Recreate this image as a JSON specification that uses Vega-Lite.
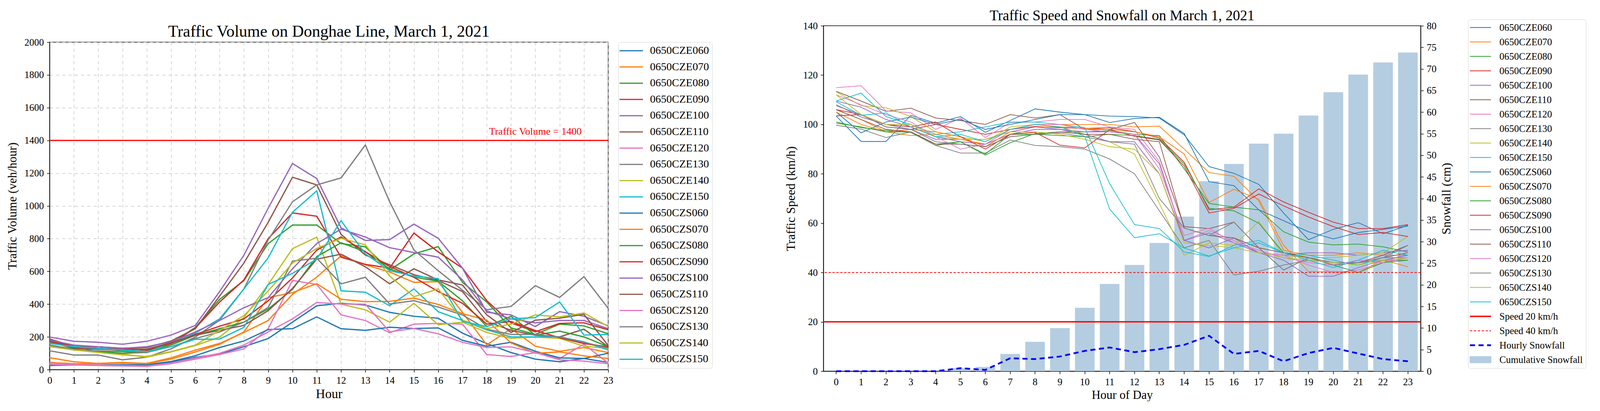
{
  "$schema": "https://vega.github.io/schema/vega-lite/v6.json",
  "padding": {"left": 15, "top": 10, "right": 0, "bottom": 0},
  "config": {
    "font": "Liberation Serif",
    "view": {"stroke": "#000000", "strokeWidth": 1.5},
    "axis": {"labelFont": "Liberation Serif", "titleFont": "Liberation Serif", "titleFontWeight": "normal", "labelColor": "#000000", "titleColor": "#000000", "domainColor": "#000000", "domainWidth": 1.5, "tickColor": "#000000", "tickWidth": 1.5, "tickSize": 7, "labelPadding": 8},
    "legend": {"labelFont": "Liberation Serif", "labelColor": "#000000"},
    "title": {"font": "Liberation Serif", "fontWeight": "normal", "color": "#000000"}
  },
  "datasets": {
    "volume": [
      {"hour":0,"sensor":"0650CZE060","volume":25},{"hour":1,"sensor":"0650CZE060","volume":28},{"hour":2,"sensor":"0650CZE060","volume":28},{"hour":3,"sensor":"0650CZE060","volume":28},{"hour":4,"sensor":"0650CZE060","volume":28},{"hour":5,"sensor":"0650CZE060","volume":45},{"hour":6,"sensor":"0650CZE060","volume":75},{"hour":7,"sensor":"0650CZE060","volume":95},{"hour":8,"sensor":"0650CZE060","volume":140},{"hour":9,"sensor":"0650CZE060","volume":190},{"hour":10,"sensor":"0650CZE060","volume":290},{"hour":11,"sensor":"0650CZE060","volume":390},{"hour":12,"sensor":"0650CZE060","volume":405},{"hour":13,"sensor":"0650CZE060","volume":395},{"hour":14,"sensor":"0650CZE060","volume":350},{"hour":15,"sensor":"0650CZE060","volume":326},{"hour":16,"sensor":"0650CZE060","volume":314},{"hour":17,"sensor":"0650CZE060","volume":223},{"hour":18,"sensor":"0650CZE060","volume":159},{"hour":19,"sensor":"0650CZE060","volume":104},{"hour":20,"sensor":"0650CZE060","volume":64},{"hour":21,"sensor":"0650CZE060","volume":48},{"hour":22,"sensor":"0650CZE060","volume":68},{"hour":23,"sensor":"0650CZE060","volume":44},
      {"hour":0,"sensor":"0650CZE070","volume":73},{"hour":1,"sensor":"0650CZE070","volume":48},{"hour":2,"sensor":"0650CZE070","volume":38},{"hour":3,"sensor":"0650CZE070","volume":44},{"hour":4,"sensor":"0650CZE070","volume":38},{"hour":5,"sensor":"0650CZE070","volume":72},{"hour":6,"sensor":"0650CZE070","volume":119},{"hour":7,"sensor":"0650CZE070","volume":160},{"hour":8,"sensor":"0650CZE070","volume":227},{"hour":9,"sensor":"0650CZE070","volume":300},{"hour":10,"sensor":"0650CZE070","volume":460},{"hour":11,"sensor":"0650CZE070","volume":565},{"hour":12,"sensor":"0650CZE070","volume":695},{"hour":13,"sensor":"0650CZE070","volume":640},{"hour":14,"sensor":"0650CZE070","volume":596},{"hour":15,"sensor":"0650CZE070","volume":533},{"hour":16,"sensor":"0650CZE070","volume":537},{"hour":17,"sensor":"0650CZE070","volume":350},{"hour":18,"sensor":"0650CZE070","volume":151},{"hour":19,"sensor":"0650CZE070","volume":250},{"hour":20,"sensor":"0650CZE070","volume":143},{"hour":21,"sensor":"0650CZE070","volume":112},{"hour":22,"sensor":"0650CZE070","volume":135},{"hour":23,"sensor":"0650CZE070","volume":104},
      {"hour":0,"sensor":"0650CZE080","volume":175},{"hour":1,"sensor":"0650CZE080","volume":143},{"hour":2,"sensor":"0650CZE080","volume":108},{"hour":3,"sensor":"0650CZE080","volume":115},{"hour":4,"sensor":"0650CZE080","volume":111},{"hour":5,"sensor":"0650CZE080","volume":159},{"hour":6,"sensor":"0650CZE080","volume":258},{"hour":7,"sensor":"0650CZE080","volume":429},{"hour":8,"sensor":"0650CZE080","volume":544},{"hour":9,"sensor":"0650CZE080","volume":770},{"hour":10,"sensor":"0650CZE080","volume":883},{"hour":11,"sensor":"0650CZE080","volume":883},{"hour":12,"sensor":"0650CZE080","volume":770},{"hour":13,"sensor":"0650CZE080","volume":750},{"hour":14,"sensor":"0650CZE080","volume":608},{"hour":15,"sensor":"0650CZE080","volume":707},{"hour":16,"sensor":"0650CZE080","volume":751},{"hour":17,"sensor":"0650CZE080","volume":533},{"hour":18,"sensor":"0650CZE080","volume":413},{"hour":19,"sensor":"0650CZE080","volume":255},{"hour":20,"sensor":"0650CZE080","volume":215},{"hour":21,"sensor":"0650CZE080","volume":278},{"hour":22,"sensor":"0650CZE080","volume":267},{"hour":23,"sensor":"0650CZE080","volume":219},
      {"hour":0,"sensor":"0650CZE090","volume":187},{"hour":1,"sensor":"0650CZE090","volume":135},{"hour":2,"sensor":"0650CZE090","volume":127},{"hour":3,"sensor":"0650CZE090","volume":127},{"hour":4,"sensor":"0650CZE090","volume":119},{"hour":5,"sensor":"0650CZE090","volume":159},{"hour":6,"sensor":"0650CZE090","volume":254},{"hour":7,"sensor":"0650CZE090","volume":413},{"hour":8,"sensor":"0650CZE090","volume":548},{"hour":9,"sensor":"0650CZE090","volume":800},{"hour":10,"sensor":"0650CZE090","volume":957},{"hour":11,"sensor":"0650CZE090","volume":937},{"hour":12,"sensor":"0650CZE090","volume":687},{"hour":13,"sensor":"0650CZE090","volume":643},{"hour":14,"sensor":"0650CZE090","volume":620},{"hour":15,"sensor":"0650CZE090","volume":834},{"hour":16,"sensor":"0650CZE090","volume":719},{"hour":17,"sensor":"0650CZE090","volume":620},{"hour":18,"sensor":"0650CZE090","volume":421},{"hour":19,"sensor":"0650CZE090","volume":286},{"hour":20,"sensor":"0650CZE090","volume":231},{"hour":21,"sensor":"0650CZE090","volume":282},{"hour":22,"sensor":"0650CZE090","volume":286},{"hour":23,"sensor":"0650CZE090","volume":243},
      {"hour":0,"sensor":"0650CZE100","volume":199},{"hour":1,"sensor":"0650CZE100","volume":173},{"hour":2,"sensor":"0650CZE100","volume":167},{"hour":3,"sensor":"0650CZE100","volume":155},{"hour":4,"sensor":"0650CZE100","volume":173},{"hour":5,"sensor":"0650CZE100","volume":211},{"hour":6,"sensor":"0650CZE100","volume":270},{"hour":7,"sensor":"0650CZE100","volume":477},{"hour":8,"sensor":"0650CZE100","volume":699},{"hour":9,"sensor":"0650CZE100","volume":986},{"hour":10,"sensor":"0650CZE100","volume":1259},{"hour":11,"sensor":"0650CZE100","volume":1167},{"hour":12,"sensor":"0650CZE100","volume":866},{"hour":13,"sensor":"0650CZE100","volume":789},{"hour":14,"sensor":"0650CZE100","volume":794},{"hour":15,"sensor":"0650CZE100","volume":889},{"hour":16,"sensor":"0650CZE100","volume":802},{"hour":17,"sensor":"0650CZE100","volume":620},{"hour":18,"sensor":"0650CZE100","volume":350},{"hour":19,"sensor":"0650CZE100","volume":334},{"hour":20,"sensor":"0650CZE100","volume":263},{"hour":21,"sensor":"0650CZE100","volume":354},{"hour":22,"sensor":"0650CZE100","volume":326},{"hour":23,"sensor":"0650CZE100","volume":267},
      {"hour":0,"sensor":"0650CZE110","volume":187},{"hour":1,"sensor":"0650CZE110","volume":143},{"hour":2,"sensor":"0650CZE110","volume":139},{"hour":3,"sensor":"0650CZE110","volume":131},{"hour":4,"sensor":"0650CZE110","volume":135},{"hour":5,"sensor":"0650CZE110","volume":175},{"hour":6,"sensor":"0650CZE110","volume":250},{"hour":7,"sensor":"0650CZE110","volume":449},{"hour":8,"sensor":"0650CZE110","volume":651},{"hour":9,"sensor":"0650CZE110","volume":900},{"hour":10,"sensor":"0650CZE110","volume":1175},{"hour":11,"sensor":"0650CZE110","volume":1128},{"hour":12,"sensor":"0650CZE110","volume":826},{"hour":13,"sensor":"0650CZE110","volume":700},{"hour":14,"sensor":"0650CZE110","volume":640},{"hour":15,"sensor":"0650CZE110","volume":580},{"hour":16,"sensor":"0650CZE110","volume":544},{"hour":17,"sensor":"0650CZE110","volume":477},{"hour":18,"sensor":"0650CZE110","volume":294},{"hour":19,"sensor":"0650CZE110","volume":240},{"hour":20,"sensor":"0650CZE110","volume":210},{"hour":21,"sensor":"0650CZE110","volume":200},{"hour":22,"sensor":"0650CZE110","volume":247},{"hour":23,"sensor":"0650CZE110","volume":140},
      {"hour":0,"sensor":"0650CZE120","volume":32},{"hour":1,"sensor":"0650CZE120","volume":28},{"hour":2,"sensor":"0650CZE120","volume":25},{"hour":3,"sensor":"0650CZE120","volume":22},{"hour":4,"sensor":"0650CZE120","volume":20},{"hour":5,"sensor":"0650CZE120","volume":36},{"hour":6,"sensor":"0650CZE120","volume":64},{"hour":7,"sensor":"0650CZE120","volume":92},{"hour":8,"sensor":"0650CZE120","volume":127},{"hour":9,"sensor":"0650CZE120","volume":250},{"hour":10,"sensor":"0650CZE120","volume":545},{"hour":11,"sensor":"0650CZE120","volume":520},{"hour":12,"sensor":"0650CZE120","volume":335},{"hour":13,"sensor":"0650CZE120","volume":300},{"hour":14,"sensor":"0650CZE120","volume":225},{"hour":15,"sensor":"0650CZE120","volume":278},{"hour":16,"sensor":"0650CZE120","volume":282},{"hour":17,"sensor":"0650CZE120","volume":278},{"hour":18,"sensor":"0650CZE120","volume":92},{"hour":19,"sensor":"0650CZE120","volume":80},{"hour":20,"sensor":"0650CZE120","volume":104},{"hour":21,"sensor":"0650CZE120","volume":68},{"hour":22,"sensor":"0650CZE120","volume":155},{"hour":23,"sensor":"0650CZE120","volume":40},
      {"hour":0,"sensor":"0650CZE130","volume":115},{"hour":1,"sensor":"0650CZE130","volume":89},{"hour":2,"sensor":"0650CZE130","volume":89},{"hour":3,"sensor":"0650CZE130","volume":60},{"hour":4,"sensor":"0650CZE130","volume":76},{"hour":5,"sensor":"0650CZE130","volume":127},{"hour":6,"sensor":"0650CZE130","volume":199},{"hour":7,"sensor":"0650CZE130","volume":302},{"hour":8,"sensor":"0650CZE130","volume":493},{"hour":9,"sensor":"0650CZE130","volume":792},{"hour":10,"sensor":"0650CZE130","volume":1025},{"hour":11,"sensor":"0650CZE130","volume":1128},{"hour":12,"sensor":"0650CZE130","volume":1171},{"hour":13,"sensor":"0650CZE130","volume":1372},{"hour":14,"sensor":"0650CZE130","volume":1025},{"hour":15,"sensor":"0650CZE130","volume":731},{"hour":16,"sensor":"0650CZE130","volume":604},{"hour":17,"sensor":"0650CZE130","volume":485},{"hour":18,"sensor":"0650CZE130","volume":366},{"hour":19,"sensor":"0650CZE130","volume":386},{"hour":20,"sensor":"0650CZE130","volume":513},{"hour":21,"sensor":"0650CZE130","volume":441},{"hour":22,"sensor":"0650CZE130","volume":568},{"hour":23,"sensor":"0650CZE130","volume":374},
      {"hour":0,"sensor":"0650CZE140","volume":147},{"hour":1,"sensor":"0650CZE140","volume":123},{"hour":2,"sensor":"0650CZE140","volume":111},{"hour":3,"sensor":"0650CZE140","volume":96},{"hour":4,"sensor":"0650CZE140","volume":76},{"hour":5,"sensor":"0650CZE140","volume":108},{"hour":6,"sensor":"0650CZE140","volume":147},{"hour":7,"sensor":"0650CZE140","volume":199},{"hour":8,"sensor":"0650CZE140","volume":318},{"hour":9,"sensor":"0650CZE140","volume":520},{"hour":10,"sensor":"0650CZE140","volume":739},{"hour":11,"sensor":"0650CZE140","volume":809},{"hour":12,"sensor":"0650CZE140","volume":400},{"hour":13,"sensor":"0650CZE140","volume":365},{"hour":14,"sensor":"0650CZE140","volume":290},{"hour":15,"sensor":"0650CZE140","volume":405},{"hour":16,"sensor":"0650CZE140","volume":274},{"hour":17,"sensor":"0650CZE140","volume":290},{"hour":18,"sensor":"0650CZE140","volume":227},{"hour":19,"sensor":"0650CZE140","volume":191},{"hour":20,"sensor":"0650CZE140","volume":199},{"hour":21,"sensor":"0650CZE140","volume":191},{"hour":22,"sensor":"0650CZE140","volume":143},{"hour":23,"sensor":"0650CZE140","volume":130},
      {"hour":0,"sensor":"0650CZE150","volume":167},{"hour":1,"sensor":"0650CZE150","volume":143},{"hour":2,"sensor":"0650CZE150","volume":127},{"hour":3,"sensor":"0650CZE150","volume":123},{"hour":4,"sensor":"0650CZE150","volume":104},{"hour":5,"sensor":"0650CZE150","volume":167},{"hour":6,"sensor":"0650CZE150","volume":223},{"hour":7,"sensor":"0650CZE150","volume":310},{"hour":8,"sensor":"0650CZE150","volume":493},{"hour":9,"sensor":"0650CZE150","volume":683},{"hour":10,"sensor":"0650CZE150","volume":961},{"hour":11,"sensor":"0650CZE150","volume":1092},{"hour":12,"sensor":"0650CZE150","volume":481},{"hour":13,"sensor":"0650CZE150","volume":473},{"hour":14,"sensor":"0650CZE150","volume":390},{"hour":15,"sensor":"0650CZE150","volume":493},{"hour":16,"sensor":"0650CZE150","volume":354},{"hour":17,"sensor":"0650CZE150","volume":300},{"hour":18,"sensor":"0650CZE150","volume":243},{"hour":19,"sensor":"0650CZE150","volume":200},{"hour":20,"sensor":"0650CZE150","volume":200},{"hour":21,"sensor":"0650CZE150","volume":200},{"hour":22,"sensor":"0650CZE150","volume":170},{"hour":23,"sensor":"0650CZE150","volume":120},
      {"hour":0,"sensor":"0650CZS060","volume":45},{"hour":1,"sensor":"0650CZS060","volume":30},{"hour":2,"sensor":"0650CZS060","volume":28},{"hour":3,"sensor":"0650CZS060","volume":30},{"hour":4,"sensor":"0650CZS060","volume":30},{"hour":5,"sensor":"0650CZS060","volume":50},{"hour":6,"sensor":"0650CZS060","volume":85},{"hour":7,"sensor":"0650CZS060","volume":135},{"hour":8,"sensor":"0650CZS060","volume":175},{"hour":9,"sensor":"0650CZS060","volume":245},{"hour":10,"sensor":"0650CZS060","volume":250},{"hour":11,"sensor":"0650CZS060","volume":322},{"hour":12,"sensor":"0650CZS060","volume":250},{"hour":13,"sensor":"0650CZS060","volume":240},{"hour":14,"sensor":"0650CZS060","volume":259},{"hour":15,"sensor":"0650CZS060","volume":251},{"hour":16,"sensor":"0650CZS060","volume":255},{"hour":17,"sensor":"0650CZS060","volume":179},{"hour":18,"sensor":"0650CZS060","volume":143},{"hour":19,"sensor":"0650CZS060","volume":167},{"hour":20,"sensor":"0650CZS060","volume":112},{"hour":21,"sensor":"0650CZS060","volume":72},{"hour":22,"sensor":"0650CZS060","volume":68},{"hour":23,"sensor":"0650CZS060","volume":100},
      {"hour":0,"sensor":"0650CZS070","volume":44},{"hour":1,"sensor":"0650CZS070","volume":36},{"hour":2,"sensor":"0650CZS070","volume":36},{"hour":3,"sensor":"0650CZS070","volume":40},{"hour":4,"sensor":"0650CZS070","volume":36},{"hour":5,"sensor":"0650CZS070","volume":64},{"hour":6,"sensor":"0650CZS070","volume":108},{"hour":7,"sensor":"0650CZS070","volume":155},{"hour":8,"sensor":"0650CZS070","volume":230},{"hour":9,"sensor":"0650CZS070","volume":440},{"hour":10,"sensor":"0650CZS070","volume":470},{"hour":11,"sensor":"0650CZS070","volume":525},{"hour":12,"sensor":"0650CZS070","volume":430},{"hour":13,"sensor":"0650CZS070","volume":415},{"hour":14,"sensor":"0650CZS070","volume":417},{"hour":15,"sensor":"0650CZS070","volume":437},{"hour":16,"sensor":"0650CZS070","volume":398},{"hour":17,"sensor":"0650CZS070","volume":342},{"hour":18,"sensor":"0650CZS070","volume":302},{"hour":19,"sensor":"0650CZS070","volume":163},{"hour":20,"sensor":"0650CZS070","volume":100},{"hour":21,"sensor":"0650CZS070","volume":108},{"hour":22,"sensor":"0650CZS070","volume":84},{"hour":23,"sensor":"0650CZS070","volume":68},
      {"hour":0,"sensor":"0650CZS080","volume":150},{"hour":1,"sensor":"0650CZS080","volume":125},{"hour":2,"sensor":"0650CZS080","volume":110},{"hour":3,"sensor":"0650CZS080","volume":100},{"hour":4,"sensor":"0650CZS080","volume":105},{"hour":5,"sensor":"0650CZS080","volume":150},{"hour":6,"sensor":"0650CZS080","volume":210},{"hour":7,"sensor":"0650CZS080","volume":250},{"hour":8,"sensor":"0650CZS080","volume":290},{"hour":9,"sensor":"0650CZS080","volume":370},{"hour":10,"sensor":"0650CZS080","volume":490},{"hour":11,"sensor":"0650CZS080","volume":690},{"hour":12,"sensor":"0650CZS080","volume":775},{"hour":13,"sensor":"0650CZS080","volume":720},{"hour":14,"sensor":"0650CZS080","volume":615},{"hour":15,"sensor":"0650CZS080","volume":565},{"hour":16,"sensor":"0650CZS080","volume":540},{"hour":17,"sensor":"0650CZS080","volume":420},{"hour":18,"sensor":"0650CZS080","volume":263},{"hour":19,"sensor":"0650CZS080","volume":326},{"hour":20,"sensor":"0650CZS080","volume":211},{"hour":21,"sensor":"0650CZS080","volume":235},{"hour":22,"sensor":"0650CZS080","volume":200},{"hour":23,"sensor":"0650CZS080","volume":140},
      {"hour":0,"sensor":"0650CZS090","volume":175},{"hour":1,"sensor":"0650CZS090","volume":140},{"hour":2,"sensor":"0650CZS090","volume":130},{"hour":3,"sensor":"0650CZS090","volume":125},{"hour":4,"sensor":"0650CZS090","volume":125},{"hour":5,"sensor":"0650CZS090","volume":160},{"hour":6,"sensor":"0650CZS090","volume":215},{"hour":7,"sensor":"0650CZS090","volume":265},{"hour":8,"sensor":"0650CZS090","volume":310},{"hour":9,"sensor":"0650CZS090","volume":420},{"hour":10,"sensor":"0650CZS090","volume":560},{"hour":11,"sensor":"0650CZS090","volume":730},{"hour":12,"sensor":"0650CZS090","volume":810},{"hour":13,"sensor":"0650CZS090","volume":720},{"hour":14,"sensor":"0650CZS090","volume":630},{"hour":15,"sensor":"0650CZS090","volume":564},{"hour":16,"sensor":"0650CZS090","volume":477},{"hour":17,"sensor":"0650CZS090","volume":405},{"hour":18,"sensor":"0650CZS090","volume":278},{"hour":19,"sensor":"0650CZS090","volume":294},{"hour":20,"sensor":"0650CZS090","volume":239},{"hour":21,"sensor":"0650CZS090","volume":195},{"hour":22,"sensor":"0650CZS090","volume":159},{"hour":23,"sensor":"0650CZS090","volume":139},
      {"hour":0,"sensor":"0650CZS100","volume":180},{"hour":1,"sensor":"0650CZS100","volume":150},{"hour":2,"sensor":"0650CZS100","volume":140},{"hour":3,"sensor":"0650CZS100","volume":130},{"hour":4,"sensor":"0650CZS100","volume":140},{"hour":5,"sensor":"0650CZS100","volume":170},{"hour":6,"sensor":"0650CZS100","volume":230},{"hour":7,"sensor":"0650CZS100","volume":300},{"hour":8,"sensor":"0650CZS100","volume":378},{"hour":9,"sensor":"0650CZS100","volume":440},{"hour":10,"sensor":"0650CZS100","volume":616},{"hour":11,"sensor":"0650CZS100","volume":770},{"hour":12,"sensor":"0650CZS100","volume":858},{"hour":13,"sensor":"0650CZS100","volume":810},{"hour":14,"sensor":"0650CZS100","volume":745},{"hour":15,"sensor":"0650CZS100","volume":715},{"hour":16,"sensor":"0650CZS100","volume":687},{"hour":17,"sensor":"0650CZS100","volume":548},{"hour":18,"sensor":"0650CZS100","volume":358},{"hour":19,"sensor":"0650CZS100","volume":310},{"hour":20,"sensor":"0650CZS100","volume":286},{"hour":21,"sensor":"0650CZS100","volume":300},{"hour":22,"sensor":"0650CZS100","volume":300},{"hour":23,"sensor":"0650CZS100","volume":250},
      {"hour":0,"sensor":"0650CZS110","volume":170},{"hour":1,"sensor":"0650CZS110","volume":130},{"hour":2,"sensor":"0650CZS110","volume":125},{"hour":3,"sensor":"0650CZS110","volume":120},{"hour":4,"sensor":"0650CZS110","volume":125},{"hour":5,"sensor":"0650CZS110","volume":165},{"hour":6,"sensor":"0650CZS110","volume":210},{"hour":7,"sensor":"0650CZS110","volume":240},{"hour":8,"sensor":"0650CZS110","volume":270},{"hour":9,"sensor":"0650CZS110","volume":360},{"hour":10,"sensor":"0650CZS110","volume":496},{"hour":11,"sensor":"0650CZS110","volume":675},{"hour":12,"sensor":"0650CZS110","volume":705},{"hour":13,"sensor":"0650CZS110","volume":628},{"hour":14,"sensor":"0650CZS110","volume":524},{"hour":15,"sensor":"0650CZS110","volume":616},{"hour":16,"sensor":"0650CZS110","volume":548},{"hour":17,"sensor":"0650CZS110","volume":517},{"hour":18,"sensor":"0650CZS110","volume":334},{"hour":19,"sensor":"0650CZS110","volume":227},{"hour":20,"sensor":"0650CZS110","volume":302},{"hour":21,"sensor":"0650CZS110","volume":314},{"hour":22,"sensor":"0650CZS110","volume":338},{"hour":23,"sensor":"0650CZS110","volume":147},
      {"hour":0,"sensor":"0650CZS120","volume":40},{"hour":1,"sensor":"0650CZS120","volume":30},{"hour":2,"sensor":"0650CZS120","volume":28},{"hour":3,"sensor":"0650CZS120","volume":25},{"hour":4,"sensor":"0650CZS120","volume":22},{"hour":5,"sensor":"0650CZS120","volume":40},{"hour":6,"sensor":"0650CZS120","volume":70},{"hour":7,"sensor":"0650CZS120","volume":100},{"hour":8,"sensor":"0650CZS120","volume":150},{"hour":9,"sensor":"0650CZS120","volume":230},{"hour":10,"sensor":"0650CZS120","volume":310},{"hour":11,"sensor":"0650CZS120","volume":410},{"hour":12,"sensor":"0650CZS120","volume":400},{"hour":13,"sensor":"0650CZS120","volume":400},{"hour":14,"sensor":"0650CZS120","volume":231},{"hour":15,"sensor":"0650CZS120","volume":251},{"hour":16,"sensor":"0650CZS120","volume":219},{"hour":17,"sensor":"0650CZS120","volume":167},{"hour":18,"sensor":"0650CZS120","volume":135},{"hour":19,"sensor":"0650CZS120","volume":139},{"hour":20,"sensor":"0650CZS120","volume":104},{"hour":21,"sensor":"0650CZS120","volume":60},{"hour":22,"sensor":"0650CZS120","volume":52},{"hour":23,"sensor":"0650CZS120","volume":36},
      {"hour":0,"sensor":"0650CZS130","volume":150},{"hour":1,"sensor":"0650CZS130","volume":120},{"hour":2,"sensor":"0650CZS130","volume":115},{"hour":3,"sensor":"0650CZS130","volume":110},{"hour":4,"sensor":"0650CZS130","volume":105},{"hour":5,"sensor":"0650CZS130","volume":140},{"hour":6,"sensor":"0650CZS130","volume":190},{"hour":7,"sensor":"0650CZS130","volume":230},{"hour":8,"sensor":"0650CZS130","volume":290},{"hour":9,"sensor":"0650CZS130","volume":380},{"hour":10,"sensor":"0650CZS130","volume":663},{"hour":11,"sensor":"0650CZS130","volume":680},{"hour":12,"sensor":"0650CZS130","volume":524},{"hour":13,"sensor":"0650CZS130","volume":564},{"hour":14,"sensor":"0650CZS130","volume":401},{"hour":15,"sensor":"0650CZS130","volume":421},{"hour":16,"sensor":"0650CZS130","volume":382},{"hour":17,"sensor":"0650CZS130","volume":334},{"hour":18,"sensor":"0650CZS130","volume":247},{"hour":19,"sensor":"0650CZS130","volume":215},{"hour":20,"sensor":"0650CZS130","volume":215},{"hour":21,"sensor":"0650CZS130","volume":199},{"hour":22,"sensor":"0650CZS130","volume":167},{"hour":23,"sensor":"0650CZS130","volume":132},
      {"hour":0,"sensor":"0650CZS140","volume":140},{"hour":1,"sensor":"0650CZS140","volume":120},{"hour":2,"sensor":"0650CZS140","volume":105},{"hour":3,"sensor":"0650CZS140","volume":90},{"hour":4,"sensor":"0650CZS140","volume":80},{"hour":5,"sensor":"0650CZS140","volume":110},{"hour":6,"sensor":"0650CZS140","volume":150},{"hour":7,"sensor":"0650CZS140","volume":240},{"hour":8,"sensor":"0650CZS140","volume":330},{"hour":9,"sensor":"0650CZS140","volume":480},{"hour":10,"sensor":"0650CZS140","volume":651},{"hour":11,"sensor":"0650CZS140","volume":740},{"hour":12,"sensor":"0650CZS140","volume":802},{"hour":13,"sensor":"0650CZS140","volume":762},{"hour":14,"sensor":"0650CZS140","volume":572},{"hour":15,"sensor":"0650CZS140","volume":445},{"hour":16,"sensor":"0650CZS140","volume":493},{"hour":17,"sensor":"0650CZS140","volume":302},{"hour":18,"sensor":"0650CZS140","volume":251},{"hour":19,"sensor":"0650CZS140","volume":278},{"hour":20,"sensor":"0650CZS140","volume":334},{"hour":21,"sensor":"0650CZS140","volume":322},{"hour":22,"sensor":"0650CZS140","volume":346},{"hour":23,"sensor":"0650CZS140","volume":263},
      {"hour":0,"sensor":"0650CZS150","volume":160},{"hour":1,"sensor":"0650CZS150","volume":140},{"hour":2,"sensor":"0650CZS150","volume":130},{"hour":3,"sensor":"0650CZS150","volume":120},{"hour":4,"sensor":"0650CZS150","volume":110},{"hour":5,"sensor":"0650CZS150","volume":140},{"hour":6,"sensor":"0650CZS150","volume":185},{"hour":7,"sensor":"0650CZS150","volume":187},{"hour":8,"sensor":"0650CZS150","volume":258},{"hour":9,"sensor":"0650CZS150","volume":520},{"hour":10,"sensor":"0650CZS150","volume":588},{"hour":11,"sensor":"0650CZS150","volume":675},{"hour":12,"sensor":"0650CZS150","volume":909},{"hour":13,"sensor":"0650CZS150","volume":707},{"hour":14,"sensor":"0650CZS150","volume":604},{"hour":15,"sensor":"0650CZS150","volume":572},{"hour":16,"sensor":"0650CZS150","volume":556},{"hour":17,"sensor":"0650CZS150","volume":294},{"hour":18,"sensor":"0650CZS150","volume":263},{"hour":19,"sensor":"0650CZS150","volume":310},{"hour":20,"sensor":"0650CZS150","volume":318},{"hour":21,"sensor":"0650CZS150","volume":413},{"hour":22,"sensor":"0650CZS150","volume":211},{"hour":23,"sensor":"0650CZS150","volume":215}
    ],
    "speed": [
      {"hour":0,"series":"0650CZE060","speed":103.4},{"hour":1,"series":"0650CZE060","speed":93.1},{"hour":2,"series":"0650CZE060","speed":93.1},{"hour":3,"series":"0650CZE060","speed":103.7},{"hour":4,"series":"0650CZE060","speed":100.5},{"hour":5,"series":"0650CZE060","speed":103.2},{"hour":6,"series":"0650CZE060","speed":96.8},{"hour":7,"series":"0650CZE060","speed":101.6},{"hour":8,"series":"0650CZE060","speed":106.3},{"hour":9,"series":"0650CZE060","speed":105},{"hour":10,"series":"0650CZE060","speed":104},{"hour":11,"series":"0650CZE060","speed":103.4},{"hour":12,"series":"0650CZE060","speed":103.2},{"hour":13,"series":"0650CZE060","speed":102.6},{"hour":14,"series":"0650CZE060","speed":95.8},{"hour":15,"series":"0650CZE060","speed":82.9},{"hour":16,"series":"0650CZE060","speed":80.2},{"hour":17,"series":"0650CZE060","speed":75.7},{"hour":18,"series":"0650CZE060","speed":64.1},{"hour":19,"series":"0650CZE060","speed":53.3},{"hour":20,"series":"0650CZE060","speed":57.5},{"hour":21,"series":"0650CZE060","speed":60.2},{"hour":22,"series":"0650CZE060","speed":55.7},{"hour":23,"series":"0650CZE060","speed":59.1},
      {"hour":0,"series":"0650CZE070","speed":106},{"hour":1,"series":"0650CZE070","speed":102},{"hour":2,"series":"0650CZE070","speed":97},{"hour":3,"series":"0650CZE070","speed":95.5},{"hour":4,"series":"0650CZE070","speed":96},{"hour":5,"series":"0650CZE070","speed":94},{"hour":6,"series":"0650CZE070","speed":92},{"hour":7,"series":"0650CZE070","speed":98},{"hour":8,"series":"0650CZE070","speed":100},{"hour":9,"series":"0650CZE070","speed":100},{"hour":10,"series":"0650CZE070","speed":100},{"hour":11,"series":"0650CZE070","speed":100},{"hour":12,"series":"0650CZE070","speed":99},{"hour":13,"series":"0650CZE070","speed":99.3},{"hour":14,"series":"0650CZE070","speed":90},{"hour":15,"series":"0650CZE070","speed":80.5},{"hour":16,"series":"0650CZE070","speed":79},{"hour":17,"series":"0650CZE070","speed":69},{"hour":18,"series":"0650CZE070","speed":49},{"hour":19,"series":"0650CZE070","speed":47},{"hour":20,"series":"0650CZE070","speed":47},{"hour":21,"series":"0650CZE070","speed":48},{"hour":22,"series":"0650CZE070","speed":47},{"hour":23,"series":"0650CZE070","speed":47},
      {"hour":0,"series":"0650CZE080","speed":101},{"hour":1,"series":"0650CZE080","speed":98.7},{"hour":2,"series":"0650CZE080","speed":97.6},{"hour":3,"series":"0650CZE080","speed":96.8},{"hour":4,"series":"0650CZE080","speed":91.5},{"hour":5,"series":"0650CZE080","speed":93},{"hour":6,"series":"0650CZE080","speed":87.6},{"hour":7,"series":"0650CZE080","speed":92.6},{"hour":8,"series":"0650CZE080","speed":96.3},{"hour":9,"series":"0650CZE080","speed":97},{"hour":10,"series":"0650CZE080","speed":97},{"hour":11,"series":"0650CZE080","speed":97.5},{"hour":12,"series":"0650CZE080","speed":96},{"hour":13,"series":"0650CZE080","speed":95.5},{"hour":14,"series":"0650CZE080","speed":82},{"hour":15,"series":"0650CZE080","speed":68},{"hour":16,"series":"0650CZE080","speed":66.5},{"hour":17,"series":"0650CZE080","speed":65.4},{"hour":18,"series":"0650CZE080","speed":56.5},{"hour":19,"series":"0650CZE080","speed":52.3},{"hour":20,"series":"0650CZE080","speed":51.2},{"hour":21,"series":"0650CZE080","speed":51.5},{"hour":22,"series":"0650CZE080","speed":50.4},{"hour":23,"series":"0650CZE080","speed":48.3},
      {"hour":0,"series":"0650CZE090","speed":106},{"hour":1,"series":"0650CZE090","speed":104},{"hour":2,"series":"0650CZE090","speed":99},{"hour":3,"series":"0650CZE090","speed":98},{"hour":4,"series":"0650CZE090","speed":100},{"hour":5,"series":"0650CZE090","speed":98},{"hour":6,"series":"0650CZE090","speed":96},{"hour":7,"series":"0650CZE090","speed":98},{"hour":8,"series":"0650CZE090","speed":99.2},{"hour":9,"series":"0650CZE090","speed":98.7},{"hour":10,"series":"0650CZE090","speed":98.4},{"hour":11,"series":"0650CZE090","speed":98.7},{"hour":12,"series":"0650CZE090","speed":97.1},{"hour":13,"series":"0650CZE090","speed":94.5},{"hour":14,"series":"0650CZE090","speed":84.7},{"hour":15,"series":"0650CZE090","speed":65.4},{"hour":16,"series":"0650CZE090","speed":66.5},{"hour":17,"series":"0650CZE090","speed":73.9},{"hour":18,"series":"0650CZE090","speed":68.6},{"hour":19,"series":"0650CZE090","speed":64.4},{"hour":20,"series":"0650CZE090","speed":60.4},{"hour":21,"series":"0650CZE090","speed":57.8},{"hour":22,"series":"0650CZE090","speed":57.8},{"hour":23,"series":"0650CZE090","speed":59.4},
      {"hour":0,"series":"0650CZE100","speed":109.5},{"hour":1,"series":"0650CZE100","speed":107},{"hour":2,"series":"0650CZE100","speed":102},{"hour":3,"series":"0650CZE100","speed":99},{"hour":4,"series":"0650CZE100","speed":95},{"hour":5,"series":"0650CZE100","speed":93},{"hour":6,"series":"0650CZE100","speed":92},{"hour":7,"series":"0650CZE100","speed":96},{"hour":8,"series":"0650CZE100","speed":98},{"hour":9,"series":"0650CZE100","speed":98},{"hour":10,"series":"0650CZE100","speed":97},{"hour":11,"series":"0650CZE100","speed":97},{"hour":12,"series":"0650CZE100","speed":96},{"hour":13,"series":"0650CZE100","speed":84},{"hour":14,"series":"0650CZE100","speed":53},{"hour":15,"series":"0650CZE100","speed":50},{"hour":16,"series":"0650CZE100","speed":54},{"hour":17,"series":"0650CZE100","speed":48},{"hour":18,"series":"0650CZE100","speed":47},{"hour":19,"series":"0650CZE100","speed":48},{"hour":20,"series":"0650CZE100","speed":48},{"hour":21,"series":"0650CZE100","speed":47},{"hour":22,"series":"0650CZE100","speed":48},{"hour":23,"series":"0650CZE100","speed":49},
      {"hour":0,"series":"0650CZE110","speed":113.4},{"hour":1,"series":"0650CZE110","speed":109.5},{"hour":2,"series":"0650CZE110","speed":105.3},{"hour":3,"series":"0650CZE110","speed":106.6},{"hour":4,"series":"0650CZE110","speed":102.6},{"hour":5,"series":"0650CZE110","speed":101.6},{"hour":6,"series":"0650CZE110","speed":100},{"hour":7,"series":"0650CZE110","speed":104},{"hour":8,"series":"0650CZE110","speed":102.6},{"hour":9,"series":"0650CZE110","speed":104},{"hour":10,"series":"0650CZE110","speed":98},{"hour":11,"series":"0650CZE110","speed":98},{"hour":12,"series":"0650CZE110","speed":100.8},{"hour":13,"series":"0650CZE110","speed":86.8},{"hour":14,"series":"0650CZE110","speed":58.6},{"hour":15,"series":"0650CZE110","speed":57.8},{"hour":16,"series":"0650CZE110","speed":60.4},{"hour":17,"series":"0650CZE110","speed":50},{"hour":18,"series":"0650CZE110","speed":41},{"hour":19,"series":"0650CZE110","speed":46},{"hour":20,"series":"0650CZE110","speed":44},{"hour":21,"series":"0650CZE110","speed":44},{"hour":22,"series":"0650CZE110","speed":47},{"hour":23,"series":"0650CZE110","speed":51},
      {"hour":0,"series":"0650CZE120","speed":114.9},{"hour":1,"series":"0650CZE120","speed":115.7},{"hour":2,"series":"0650CZE120","speed":105.5},{"hour":3,"series":"0650CZE120","speed":104.7},{"hour":4,"series":"0650CZE120","speed":98},{"hour":5,"series":"0650CZE120","speed":102.6},{"hour":6,"series":"0650CZE120","speed":94.7},{"hour":7,"series":"0650CZE120","speed":100.8},{"hour":8,"series":"0650CZE120","speed":101},{"hour":9,"series":"0650CZE120","speed":102},{"hour":10,"series":"0650CZE120","speed":102},{"hour":11,"series":"0650CZE120","speed":99},{"hour":12,"series":"0650CZE120","speed":98},{"hour":13,"series":"0650CZE120","speed":85},{"hour":14,"series":"0650CZE120","speed":53},{"hour":15,"series":"0650CZE120","speed":57},{"hour":16,"series":"0650CZE120","speed":53},{"hour":17,"series":"0650CZE120","speed":48},{"hour":18,"series":"0650CZE120","speed":47},{"hour":19,"series":"0650CZE120","speed":43},{"hour":20,"series":"0650CZE120","speed":40},{"hour":21,"series":"0650CZE120","speed":41},{"hour":22,"series":"0650CZE120","speed":44},{"hour":23,"series":"0650CZE120","speed":46},
      {"hour":0,"series":"0650CZE130","speed":99.7},{"hour":1,"series":"0650CZE130","speed":98.1},{"hour":2,"series":"0650CZE130","speed":94.7},{"hour":3,"series":"0650CZE130","speed":97},{"hour":4,"series":"0650CZE130","speed":91.5},{"hour":5,"series":"0650CZE130","speed":88.4},{"hour":6,"series":"0650CZE130","speed":88.4},{"hour":7,"series":"0650CZE130","speed":93.7},{"hour":8,"series":"0650CZE130","speed":91.5},{"hour":9,"series":"0650CZE130","speed":91},{"hour":10,"series":"0650CZE130","speed":90},{"hour":11,"series":"0650CZE130","speed":86},{"hour":12,"series":"0650CZE130","speed":80},{"hour":13,"series":"0650CZE130","speed":65},{"hour":14,"series":"0650CZE130","speed":50},{"hour":15,"series":"0650CZE130","speed":53},{"hour":16,"series":"0650CZE130","speed":39},{"hour":17,"series":"0650CZE130","speed":40.5},{"hour":18,"series":"0650CZE130","speed":43},{"hour":19,"series":"0650CZE130","speed":45},{"hour":20,"series":"0650CZE130","speed":44},{"hour":21,"series":"0650CZE130","speed":44},{"hour":22,"series":"0650CZE130","speed":45},{"hour":23,"series":"0650CZE130","speed":45},
      {"hour":0,"series":"0650CZE140","speed":113.2},{"hour":1,"series":"0650CZE140","speed":107.6},{"hour":2,"series":"0650CZE140","speed":106.8},{"hour":3,"series":"0650CZE140","speed":103.2},{"hour":4,"series":"0650CZE140","speed":97},{"hour":5,"series":"0650CZE140","speed":95},{"hour":6,"series":"0650CZE140","speed":93},{"hour":7,"series":"0650CZE140","speed":99},{"hour":8,"series":"0650CZE140","speed":100},{"hour":9,"series":"0650CZE140","speed":99},{"hour":10,"series":"0650CZE140","speed":96},{"hour":11,"series":"0650CZE140","speed":93},{"hour":12,"series":"0650CZE140","speed":88},{"hour":13,"series":"0650CZE140","speed":68},{"hour":14,"series":"0650CZE140","speed":47},{"hour":15,"series":"0650CZE140","speed":52},{"hour":16,"series":"0650CZE140","speed":51},{"hour":17,"series":"0650CZE140","speed":60.7},{"hour":18,"series":"0650CZE140","speed":47},{"hour":19,"series":"0650CZE140","speed":46},{"hour":20,"series":"0650CZE140","speed":46},{"hour":21,"series":"0650CZE140","speed":47},{"hour":22,"series":"0650CZE140","speed":48},{"hour":23,"series":"0650CZE140","speed":54.6},
      {"hour":0,"series":"0650CZE150","speed":109.5},{"hour":1,"series":"0650CZE150","speed":112.7},{"hour":2,"series":"0650CZE150","speed":103.2},{"hour":3,"series":"0650CZE150","speed":100},{"hour":4,"series":"0650CZE150","speed":96},{"hour":5,"series":"0650CZE150","speed":97},{"hour":6,"series":"0650CZE150","speed":99},{"hour":7,"series":"0650CZE150","speed":101},{"hour":8,"series":"0650CZE150","speed":101},{"hour":9,"series":"0650CZE150","speed":100},{"hour":10,"series":"0650CZE150","speed":98.7},{"hour":11,"series":"0650CZE150","speed":76},{"hour":12,"series":"0650CZE150","speed":59.4},{"hour":13,"series":"0650CZE150","speed":57.8},{"hour":14,"series":"0650CZE150","speed":48.3},{"hour":15,"series":"0650CZE150","speed":46.5},{"hour":16,"series":"0650CZE150","speed":51},{"hour":17,"series":"0650CZE150","speed":53},{"hour":18,"series":"0650CZE150","speed":48},{"hour":19,"series":"0650CZE150","speed":47},{"hour":20,"series":"0650CZE150","speed":45},{"hour":21,"series":"0650CZE150","speed":43},{"hour":22,"series":"0650CZE150","speed":46},{"hour":23,"series":"0650CZE150","speed":46},
      {"hour":0,"series":"0650CZS060","speed":105},{"hour":1,"series":"0650CZS060","speed":96.6},{"hour":2,"series":"0650CZS060","speed":101},{"hour":3,"series":"0650CZS060","speed":103},{"hour":4,"series":"0650CZS060","speed":100},{"hour":5,"series":"0650CZS060","speed":102},{"hour":6,"series":"0650CZS060","speed":98},{"hour":7,"series":"0650CZS060","speed":100},{"hour":8,"series":"0650CZS060","speed":102},{"hour":9,"series":"0650CZS060","speed":104},{"hour":10,"series":"0650CZS060","speed":104},{"hour":11,"series":"0650CZS060","speed":100.8},{"hour":12,"series":"0650CZS060","speed":102.4},{"hour":13,"series":"0650CZS060","speed":102.9},{"hour":14,"series":"0650CZS060","speed":96.3},{"hour":15,"series":"0650CZS060","speed":76.8},{"hour":16,"series":"0650CZS060","speed":75.2},{"hour":17,"series":"0650CZS060","speed":65.4},{"hour":18,"series":"0650CZS060","speed":61},{"hour":19,"series":"0650CZS060","speed":56.5},{"hour":20,"series":"0650CZS060","speed":53.6},{"hour":21,"series":"0650CZS060","speed":56.2},{"hour":22,"series":"0650CZS060","speed":57.5},{"hour":23,"series":"0650CZS060","speed":58.8},
      {"hour":0,"series":"0650CZS070","speed":105},{"hour":1,"series":"0650CZS070","speed":100},{"hour":2,"series":"0650CZS070","speed":97},{"hour":3,"series":"0650CZS070","speed":98},{"hour":4,"series":"0650CZS070","speed":97},{"hour":5,"series":"0650CZS070","speed":95},{"hour":6,"series":"0650CZS070","speed":91},{"hour":7,"series":"0650CZS070","speed":97},{"hour":8,"series":"0650CZS070","speed":99},{"hour":9,"series":"0650CZS070","speed":99},{"hour":10,"series":"0650CZS070","speed":98.5},{"hour":11,"series":"0650CZS070","speed":98},{"hour":12,"series":"0650CZS070","speed":97},{"hour":13,"series":"0650CZS070","speed":95},{"hour":14,"series":"0650CZS070","speed":88},{"hour":15,"series":"0650CZS070","speed":68.4},{"hour":16,"series":"0650CZS070","speed":73.7},{"hour":17,"series":"0650CZS070","speed":69.7},{"hour":18,"series":"0650CZS070","speed":51},{"hour":19,"series":"0650CZS070","speed":40.4},{"hour":20,"series":"0650CZS070","speed":40.4},{"hour":21,"series":"0650CZS070","speed":40},{"hour":22,"series":"0650CZS070","speed":45.1},{"hour":23,"series":"0650CZS070","speed":42.3},
      {"hour":0,"series":"0650CZS080","speed":100.5},{"hour":1,"series":"0650CZS080","speed":99},{"hour":2,"series":"0650CZS080","speed":97},{"hour":3,"series":"0650CZS080","speed":97},{"hour":4,"series":"0650CZS080","speed":92},{"hour":5,"series":"0650CZS080","speed":93},{"hour":6,"series":"0650CZS080","speed":88},{"hour":7,"series":"0650CZS080","speed":96},{"hour":8,"series":"0650CZS080","speed":96},{"hour":9,"series":"0650CZS080","speed":95.5},{"hour":10,"series":"0650CZS080","speed":95},{"hour":11,"series":"0650CZS080","speed":96},{"hour":12,"series":"0650CZS080","speed":95.5},{"hour":13,"series":"0650CZS080","speed":94},{"hour":14,"series":"0650CZS080","speed":84},{"hour":15,"series":"0650CZS080","speed":66},{"hour":16,"series":"0650CZS080","speed":65},{"hour":17,"series":"0650CZS080","speed":60},{"hour":18,"series":"0650CZS080","speed":48},{"hour":19,"series":"0650CZS080","speed":46},{"hour":20,"series":"0650CZS080","speed":43},{"hour":21,"series":"0650CZS080","speed":40},{"hour":22,"series":"0650CZS080","speed":44},{"hour":23,"series":"0650CZS080","speed":45},
      {"hour":0,"series":"0650CZS090","speed":103.5},{"hour":1,"series":"0650CZS090","speed":104},{"hour":2,"series":"0650CZS090","speed":100},{"hour":3,"series":"0650CZS090","speed":99},{"hour":4,"series":"0650CZS090","speed":101},{"hour":5,"series":"0650CZS090","speed":95},{"hour":6,"series":"0650CZS090","speed":90},{"hour":7,"series":"0650CZS090","speed":96},{"hour":8,"series":"0650CZS090","speed":96.8},{"hour":9,"series":"0650CZS090","speed":91.6},{"hour":10,"series":"0650CZS090","speed":90.5},{"hour":11,"series":"0650CZS090","speed":97.9},{"hour":12,"series":"0650CZS090","speed":95.2},{"hour":13,"series":"0650CZS090","speed":93.7},{"hour":14,"series":"0650CZS090","speed":83.1},{"hour":15,"series":"0650CZS090","speed":64.1},{"hour":16,"series":"0650CZS090","speed":66},{"hour":17,"series":"0650CZS090","speed":71.8},{"hour":18,"series":"0650CZS090","speed":67},{"hour":19,"series":"0650CZS090","speed":62.5},{"hour":20,"series":"0650CZS090","speed":58.6},{"hour":21,"series":"0650CZS090","speed":55.4},{"hour":22,"series":"0650CZS090","speed":56.2},{"hour":23,"series":"0650CZS090","speed":54.6},
      {"hour":0,"series":"0650CZS100","speed":108},{"hour":1,"series":"0650CZS100","speed":103},{"hour":2,"series":"0650CZS100","speed":100},{"hour":3,"series":"0650CZS100","speed":98},{"hour":4,"series":"0650CZS100","speed":94},{"hour":5,"series":"0650CZS100","speed":94},{"hour":6,"series":"0650CZS100","speed":94},{"hour":7,"series":"0650CZS100","speed":97},{"hour":8,"series":"0650CZS100","speed":99},{"hour":9,"series":"0650CZS100","speed":98},{"hour":10,"series":"0650CZS100","speed":96},{"hour":11,"series":"0650CZS100","speed":93},{"hour":12,"series":"0650CZS100","speed":93},{"hour":13,"series":"0650CZS100","speed":80},{"hour":14,"series":"0650CZS100","speed":53},{"hour":15,"series":"0650CZS100","speed":56},{"hour":16,"series":"0650CZS100","speed":52},{"hour":17,"series":"0650CZS100","speed":48},{"hour":18,"series":"0650CZS100","speed":45},{"hour":19,"series":"0650CZS100","speed":38.5},{"hour":20,"series":"0650CZS100","speed":38.5},{"hour":21,"series":"0650CZS100","speed":42},{"hour":22,"series":"0650CZS100","speed":45},{"hour":23,"series":"0650CZS100","speed":47},
      {"hour":0,"series":"0650CZS110","speed":106},{"hour":1,"series":"0650CZS110","speed":102},{"hour":2,"series":"0650CZS110","speed":98},{"hour":3,"series":"0650CZS110","speed":97},{"hour":4,"series":"0650CZS110","speed":92},{"hour":5,"series":"0650CZS110","speed":92},{"hour":6,"series":"0650CZS110","speed":91},{"hour":7,"series":"0650CZS110","speed":95},{"hour":8,"series":"0650CZS110","speed":96},{"hour":9,"series":"0650CZS110","speed":97},{"hour":10,"series":"0650CZS110","speed":96},{"hour":11,"series":"0650CZS110","speed":96},{"hour":12,"series":"0650CZS110","speed":94},{"hour":13,"series":"0650CZS110","speed":93},{"hour":14,"series":"0650CZS110","speed":58},{"hour":15,"series":"0650CZS110","speed":55},{"hour":16,"series":"0650CZS110","speed":54},{"hour":17,"series":"0650CZS110","speed":50},{"hour":18,"series":"0650CZS110","speed":48},{"hour":19,"series":"0650CZS110","speed":46},{"hour":20,"series":"0650CZS110","speed":43},{"hour":21,"series":"0650CZS110","speed":44},{"hour":22,"series":"0650CZS110","speed":46},{"hour":23,"series":"0650CZS110","speed":48},
      {"hour":0,"series":"0650CZS120","speed":112},{"hour":1,"series":"0650CZS120","speed":108},{"hour":2,"series":"0650CZS120","speed":104},{"hour":3,"series":"0650CZS120","speed":101},{"hour":4,"series":"0650CZS120","speed":95},{"hour":5,"series":"0650CZS120","speed":90},{"hour":6,"series":"0650CZS120","speed":92},{"hour":7,"series":"0650CZS120","speed":98},{"hour":8,"series":"0650CZS120","speed":100},{"hour":9,"series":"0650CZS120","speed":100},{"hour":10,"series":"0650CZS120","speed":98},{"hour":11,"series":"0650CZS120","speed":97},{"hour":12,"series":"0650CZS120","speed":96},{"hour":13,"series":"0650CZS120","speed":82},{"hour":14,"series":"0650CZS120","speed":55},{"hour":15,"series":"0650CZS120","speed":58},{"hour":16,"series":"0650CZS120","speed":52},{"hour":17,"series":"0650CZS120","speed":49},{"hour":18,"series":"0650CZS120","speed":46},{"hour":19,"series":"0650CZS120","speed":44},{"hour":20,"series":"0650CZS120","speed":43},{"hour":21,"series":"0650CZS120","speed":45},{"hour":22,"series":"0650CZS120","speed":44},{"hour":23,"series":"0650CZS120","speed":48},
      {"hour":0,"series":"0650CZS130","speed":107.6},{"hour":1,"series":"0650CZS130","speed":104},{"hour":2,"series":"0650CZS130","speed":99},{"hour":3,"series":"0650CZS130","speed":98},{"hour":4,"series":"0650CZS130","speed":93},{"hour":5,"series":"0650CZS130","speed":92},{"hour":6,"series":"0650CZS130","speed":91},{"hour":7,"series":"0650CZS130","speed":95},{"hour":8,"series":"0650CZS130","speed":96},{"hour":9,"series":"0650CZS130","speed":96.5},{"hour":10,"series":"0650CZS130","speed":95},{"hour":11,"series":"0650CZS130","speed":93},{"hour":12,"series":"0650CZS130","speed":92},{"hour":13,"series":"0650CZS130","speed":70},{"hour":14,"series":"0650CZS130","speed":58},{"hour":15,"series":"0650CZS130","speed":55},{"hour":16,"series":"0650CZS130","speed":60.4},{"hour":17,"series":"0650CZS130","speed":50},{"hour":18,"series":"0650CZS130","speed":41},{"hour":19,"series":"0650CZS130","speed":46},{"hour":20,"series":"0650CZS130","speed":43},{"hour":21,"series":"0650CZS130","speed":44},{"hour":22,"series":"0650CZS130","speed":46},{"hour":23,"series":"0650CZS130","speed":51},
      {"hour":0,"series":"0650CZS140","speed":112},{"hour":1,"series":"0650CZS140","speed":104},{"hour":2,"series":"0650CZS140","speed":100},{"hour":3,"series":"0650CZS140","speed":100},{"hour":4,"series":"0650CZS140","speed":95},{"hour":5,"series":"0650CZS140","speed":94},{"hour":6,"series":"0650CZS140","speed":94},{"hour":7,"series":"0650CZS140","speed":97},{"hour":8,"series":"0650CZS140","speed":97},{"hour":9,"series":"0650CZS140","speed":96},{"hour":10,"series":"0650CZS140","speed":94},{"hour":11,"series":"0650CZS140","speed":91},{"hour":12,"series":"0650CZS140","speed":90},{"hour":13,"series":"0650CZS140","speed":80},{"hour":14,"series":"0650CZS140","speed":52},{"hour":15,"series":"0650CZS140","speed":51},{"hour":16,"series":"0650CZS140","speed":50},{"hour":17,"series":"0650CZS140","speed":48},{"hour":18,"series":"0650CZS140","speed":46},{"hour":19,"series":"0650CZS140","speed":45},{"hour":20,"series":"0650CZS140","speed":44},{"hour":21,"series":"0650CZS140","speed":43},{"hour":22,"series":"0650CZS140","speed":45},{"hour":23,"series":"0650CZS140","speed":46},
      {"hour":0,"series":"0650CZS150","speed":109.2},{"hour":1,"series":"0650CZS150","speed":103.7},{"hour":2,"series":"0650CZS150","speed":104.7},{"hour":3,"series":"0650CZS150","speed":99},{"hour":4,"series":"0650CZS150","speed":95},{"hour":5,"series":"0650CZS150","speed":96},{"hour":6,"series":"0650CZS150","speed":93},{"hour":7,"series":"0650CZS150","speed":98},{"hour":8,"series":"0650CZS150","speed":100},{"hour":9,"series":"0650CZS150","speed":99},{"hour":10,"series":"0650CZS150","speed":95.2},{"hour":11,"series":"0650CZS150","speed":65.7},{"hour":12,"series":"0650CZS150","speed":54.1},{"hour":13,"series":"0650CZS150","speed":55.7},{"hour":14,"series":"0650CZS150","speed":49.9},{"hour":15,"series":"0650CZS150","speed":46.7},{"hour":16,"series":"0650CZS150","speed":50},{"hour":17,"series":"0650CZS150","speed":52},{"hour":18,"series":"0650CZS150","speed":48},{"hour":19,"series":"0650CZS150","speed":45},{"hour":20,"series":"0650CZS150","speed":42},{"hour":21,"series":"0650CZS150","speed":45},{"hour":22,"series":"0650CZS150","speed":49},{"hour":23,"series":"0650CZS150","speed":47}
    ],
    "cumulative": [
      {"hour":0,"series":"Cumulative Snowfall","snowfall":0},{"hour":1,"series":"Cumulative Snowfall","snowfall":0},{"hour":2,"series":"Cumulative Snowfall","snowfall":0},{"hour":3,"series":"Cumulative Snowfall","snowfall":0},{"hour":4,"series":"Cumulative Snowfall","snowfall":0},{"hour":5,"series":"Cumulative Snowfall","snowfall":0.7},{"hour":6,"series":"Cumulative Snowfall","snowfall":1.0},{"hour":7,"series":"Cumulative Snowfall","snowfall":4.0},{"hour":8,"series":"Cumulative Snowfall","snowfall":6.8},{"hour":9,"series":"Cumulative Snowfall","snowfall":10.0},{"hour":10,"series":"Cumulative Snowfall","snowfall":14.7},{"hour":11,"series":"Cumulative Snowfall","snowfall":20.2},{"hour":12,"series":"Cumulative Snowfall","snowfall":24.6},{"hour":13,"series":"Cumulative Snowfall","snowfall":29.7},{"hour":14,"series":"Cumulative Snowfall","snowfall":35.8},{"hour":15,"series":"Cumulative Snowfall","snowfall":44.0},{"hour":16,"series":"Cumulative Snowfall","snowfall":48.0},{"hour":17,"series":"Cumulative Snowfall","snowfall":52.7},{"hour":18,"series":"Cumulative Snowfall","snowfall":55.0},{"hour":19,"series":"Cumulative Snowfall","snowfall":59.2},{"hour":20,"series":"Cumulative Snowfall","snowfall":64.6},{"hour":21,"series":"Cumulative Snowfall","snowfall":68.7},{"hour":22,"series":"Cumulative Snowfall","snowfall":71.5},{"hour":23,"series":"Cumulative Snowfall","snowfall":73.8}
    ],
    "hourly": [
      {"hour":0,"series":"Hourly Snowfall","snowfall":0},{"hour":1,"series":"Hourly Snowfall","snowfall":0},{"hour":2,"series":"Hourly Snowfall","snowfall":0},{"hour":3,"series":"Hourly Snowfall","snowfall":0},{"hour":4,"series":"Hourly Snowfall","snowfall":0},{"hour":5,"series":"Hourly Snowfall","snowfall":0.7},{"hour":6,"series":"Hourly Snowfall","snowfall":0.3},{"hour":7,"series":"Hourly Snowfall","snowfall":3.0},{"hour":8,"series":"Hourly Snowfall","snowfall":2.8},{"hour":9,"series":"Hourly Snowfall","snowfall":3.4},{"hour":10,"series":"Hourly Snowfall","snowfall":4.7},{"hour":11,"series":"Hourly Snowfall","snowfall":5.5},{"hour":12,"series":"Hourly Snowfall","snowfall":4.4},{"hour":13,"series":"Hourly Snowfall","snowfall":5.1},{"hour":14,"series":"Hourly Snowfall","snowfall":6.1},{"hour":15,"series":"Hourly Snowfall","snowfall":8.2},{"hour":16,"series":"Hourly Snowfall","snowfall":4.0},{"hour":17,"series":"Hourly Snowfall","snowfall":4.7},{"hour":18,"series":"Hourly Snowfall","snowfall":2.3},{"hour":19,"series":"Hourly Snowfall","snowfall":4.2},{"hour":20,"series":"Hourly Snowfall","snowfall":5.4},{"hour":21,"series":"Hourly Snowfall","snowfall":4.1},{"hour":22,"series":"Hourly Snowfall","snowfall":2.8},{"hour":23,"series":"Hourly Snowfall","snowfall":2.3}
    ]
  },
  "spacing": 182,
  "hconcat": [
    {
      "spacing": 0,
      "resolve": {"scale": {"color": "independent"}, "legend": {"color": "independent"}},
      "vconcat": [
        {"width": 10, "height": 49, "data": {"values": []}, "mark": "point", "view": {"stroke": null}},
        {
          "width": 1430,
          "height": 839,
          "title": {"text": "Traffic Volume on Donghae Line, March 1, 2021", "fontSize": 42, "offset": -7},
          "layer": [
            {
              "data": {"name": "volume"},
              "mark": {"type": "line", "strokeWidth": 3.2},
              "encoding": {
                "x": {"field": "hour", "type": "quantitative", "scale": {"domain": [0, 23], "nice": false, "zero": false},
                  "axis": {"title": "Hour", "titleFontSize": 33, "labelFontSize": 25, "values": [0,1,2,3,4,5,6,7,8,9,10,11,12,13,14,15,16,17,18,19,20,21,22,23], "format": "d", "labelFlush": false, "grid": true, "gridDash": [8, 8], "gridColor": "#c8c8c8", "gridWidth": 1.5, "titlePadding": 6}},
                "y": {"field": "volume", "type": "quantitative", "scale": {"domain": [0, 2000], "nice": false},
                  "axis": {"title": "Traffic Volume (veh/hour)", "titleFontSize": 31, "labelFontSize": 25, "values": [0,200,400,600,800,1000,1200,1400,1600,1800,2000], "format": "d", "labelFlush": false, "grid": true, "gridDash": [8, 8], "gridColor": "#c8c8c8", "gridWidth": 1.5, "titlePadding": 14}},
                "color": {"field": "sensor", "type": "nominal",
                  "scale": {
                    "domain": ["0650CZE060","0650CZE070","0650CZE080","0650CZE090","0650CZE100","0650CZE110","0650CZE120","0650CZE130","0650CZE140","0650CZE150","0650CZS060","0650CZS070","0650CZS080","0650CZS090","0650CZS100","0650CZS110","0650CZS120","0650CZS130","0650CZS140","0650CZS150"],
                    "range": ["#1f77b4","#ff7f0e","#2ca02c","#d62728","#9467bd","#8c564b","#e377c2","#7f7f7f","#bcbd22","#17becf","#1f77b4","#ff7f0e","#2ca02c","#d62728","#9467bd","#8c564b","#e377c2","#7f7f7f","#bcbd22","#17becf"]
                  },
                  "legend": {"title": null, "orient": "right", "offset": 19, "symbolType": "M-2.5,0H2.5", "symbolSize": 576, "symbolStrokeWidth": 3, "symbolOffset": 11, "labelOffset": 34, "labelFontSize": 28, "rowPadding": 13.6, "padding": 8, "strokeColor": "#d4d4d4", "fillColor": "#ffffff", "cornerRadius": 5, "labelLimit": 170}
                }
              }
            },
            {
              "data": {"values": [{"volume": 1400}]},
              "mark": {"type": "rule", "color": "#ff0000", "strokeWidth": 3},
              "encoding": {"y": {"field": "volume", "type": "quantitative"}}
            },
            {
              "data": {"values": [{"hour": 20, "volume": 1400, "label": "Traffic Volume = 1400"}]},
              "mark": {"type": "text", "color": "#ff0000", "fontSize": 26, "font": "Liberation Serif", "baseline": "bottom", "align": "center", "dy": -10},
              "encoding": {
                "x": {"field": "hour", "type": "quantitative"},
                "y": {"field": "volume", "type": "quantitative"},
                "text": {"field": "label"}
              }
            }
          ]
        }
      ]
    },
    {
      "spacing": 0,
      "resolve": {"scale": {"color": "independent"}, "legend": {"color": "independent"}},
      "vconcat": [
        {"width": 10, "height": 10, "data": {"values": []}, "mark": "point", "view": {"stroke": null}},
        {
          "width": 1529,
          "height": 885,
          "title": {"text": "Traffic Speed and Snowfall on March 1, 2021", "fontSize": 37, "offset": -10},
          "layer": [
            {
              "layer": [
                {
                  "data": {"name": "cumulative"},
                  "mark": {"type": "bar"},
                  "encoding": {
                    "x": {"field": "hour", "type": "ordinal", "scale": {"type": "band", "paddingInner": 0.21, "paddingOuter": 0.12}, "axis": {"title": "Hour of Day", "titleFontSize": 31, "labelFontSize": 25, "labelAngle": 0, "grid": false, "titlePadding": 6}},
                    "y": {"field": "snowfall", "type": "quantitative", "scale": {"domain": [0, 80], "nice": false}, "axis": {"orient": "right", "title": "Snowfall (cm)", "titleAngle": 270, "titleBaseline": "top", "titleFontSize": 32, "labelFontSize": 25, "values": [0,5,10,15,20,25,30,35,40,45,50,55,60,65,70,75,80], "grid": false, "titlePadding": 10}},
                    "color": {"field": "series", "type": "nominal",
                      "scale": {
                        "domain": ["0650CZE060","0650CZE070","0650CZE080","0650CZE090","0650CZE100","0650CZE110","0650CZE120","0650CZE130","0650CZE140","0650CZE150","0650CZS060","0650CZS070","0650CZS080","0650CZS090","0650CZS100","0650CZS110","0650CZS120","0650CZS130","0650CZS140","0650CZS150","Speed 20 km/h","Speed 40 km/h","Hourly Snowfall","Cumulative Snowfall"],
                        "range": ["#1f77b4","#ff7f0e","#2ca02c","#d62728","#9467bd","#8c564b","#e377c2","#7f7f7f","#bcbd22","#17becf","#1f77b4","#ff7f0e","#2ca02c","#d62728","#9467bd","#8c564b","#e377c2","#7f7f7f","#bcbd22","#17becf","#ff0000","#ff0000","#0000ff","#b5cde1"]
                      }
                    }
                  }
                },
                {
                  "data": {"name": "hourly"},
                  "mark": {"type": "line", "strokeWidth": 4.5, "strokeDash": [13, 9]},
                  "encoding": {
                    "x": {"field": "hour", "type": "ordinal", "scale": {"type": "band", "paddingInner": 0.21, "paddingOuter": 0.12}, "axis": {"title": "Hour of Day", "titleFontSize": 31, "labelFontSize": 25, "labelAngle": 0, "grid": false, "titlePadding": 6}},
                    "y": {"field": "snowfall", "type": "quantitative", "scale": {"domain": [0, 80], "nice": false}, "axis": {"orient": "right", "title": "Snowfall (cm)", "titleAngle": 270, "titleBaseline": "top", "titleFontSize": 32, "labelFontSize": 25, "values": [0,5,10,15,20,25,30,35,40,45,50,55,60,65,70,75,80], "grid": false, "titlePadding": 10}},
                    "color": {"field": "series", "type": "nominal",
                      "scale": {
                        "domain": ["0650CZE060","0650CZE070","0650CZE080","0650CZE090","0650CZE100","0650CZE110","0650CZE120","0650CZE130","0650CZE140","0650CZE150","0650CZS060","0650CZS070","0650CZS080","0650CZS090","0650CZS100","0650CZS110","0650CZS120","0650CZS130","0650CZS140","0650CZS150","Speed 20 km/h","Speed 40 km/h","Hourly Snowfall","Cumulative Snowfall"],
                        "range": ["#1f77b4","#ff7f0e","#2ca02c","#d62728","#9467bd","#8c564b","#e377c2","#7f7f7f","#bcbd22","#17becf","#1f77b4","#ff7f0e","#2ca02c","#d62728","#9467bd","#8c564b","#e377c2","#7f7f7f","#bcbd22","#17becf","#ff0000","#ff0000","#0000ff","#b5cde1"]
                      }
                    }
                  }
                }
              ]
            },
            {
              "layer": [
                {
                  "data": {"name": "speed"},
                  "mark": {"type": "line", "strokeWidth": 1.8},
                  "encoding": {
                    "x": {"field": "hour", "type": "ordinal", "scale": {"type": "band", "paddingInner": 0.21, "paddingOuter": 0.12}, "axis": {"title": "Hour of Day", "titleFontSize": 31, "labelFontSize": 25, "labelAngle": 0, "grid": false, "titlePadding": 6}},
                    "y": {"field": "speed", "type": "quantitative", "scale": {"domain": [0, 140], "nice": false}, "axis": {"orient": "left", "title": "Traffic Speed (km/h)", "titleFontSize": 32, "labelFontSize": 25, "values": [0,20,40,60,80,100,120,140], "grid": false, "titlePadding": 14}},
                    "color": {"field": "series", "type": "nominal",
                      "scale": {
                        "domain": ["0650CZE060","0650CZE070","0650CZE080","0650CZE090","0650CZE100","0650CZE110","0650CZE120","0650CZE130","0650CZE140","0650CZE150","0650CZS060","0650CZS070","0650CZS080","0650CZS090","0650CZS100","0650CZS110","0650CZS120","0650CZS130","0650CZS140","0650CZS150","Speed 20 km/h","Speed 40 km/h","Hourly Snowfall","Cumulative Snowfall"],
                        "range": ["#1f77b4","#ff7f0e","#2ca02c","#d62728","#9467bd","#8c564b","#e377c2","#7f7f7f","#bcbd22","#17becf","#1f77b4","#ff7f0e","#2ca02c","#d62728","#9467bd","#8c564b","#e377c2","#7f7f7f","#bcbd22","#17becf","#ff0000","#ff0000","#0000ff","#b5cde1"]
                      },
                      "legend": {
                        "title": null, "orient": "none", "legendX": 1650, "legendY": -16,
                        "symbolType": "M-2.7,0H2.7", "symbolSize": 400, "symbolStrokeWidth": 1.8, "symbolOffset": 11.5, "labelOffset": 36,
                        "labelFontSize": 25, "rowPadding": 11, "padding": 8, "strokeColor": "#d4d4d4", "fillColor": "#ffffff", "cornerRadius": 5, "labelLimit": 240,
                        "encode": {
                          "symbols": {
                            "update": {
                              "shape": {"signal": "datum.value === 'Cumulative Snowfall' ? 'M-2.7,-0.8H2.7V0.8H-2.7Z' : 'M-2.7,0H2.7'"},
                              "fill": {"signal": "datum.value === 'Cumulative Snowfall' ? '#b5cde1' : 'transparent'"},
                              "stroke": {"signal": "datum.value === 'Cumulative Snowfall' ? 'transparent' : (datum.value === 'Speed 20 km/h' || datum.value === 'Speed 40 km/h') ? '#ff0000' : datum.value === 'Hourly Snowfall' ? '#0000ff' : ['#1f77b4','#ff7f0e','#2ca02c','#d62728','#9467bd','#8c564b','#e377c2','#7f7f7f','#bcbd22','#17becf'][datum.index % 10]"},
                              "strokeWidth": {"signal": "datum.value === 'Speed 20 km/h' ? 3.5 : datum.value === 'Hourly Snowfall' ? 4.5 : datum.value === 'Speed 40 km/h' ? 2 : 1.8"},
                              "strokeDash": {"signal": "datum.value === 'Speed 40 km/h' ? [6, 4] : datum.value === 'Hourly Snowfall' ? [13, 9] : [1, 0]"},
                              "opacity": {"value": 1}
                            }
                          }
                        }
                      }
                    }
                  }
                },
                {
                  "data": {"values": [{"series": "Speed 20 km/h", "speed": 20}]},
                  "mark": {"type": "rule", "strokeWidth": 3.5},
                  "encoding": {
                    "y": {"field": "speed", "type": "quantitative", "scale": {"domain": [0, 140], "nice": false}, "axis": {"orient": "left", "title": "Traffic Speed (km/h)", "titleFontSize": 32, "labelFontSize": 25, "values": [0,20,40,60,80,100,120,140], "grid": false, "titlePadding": 14}},
                    "color": {"field": "series", "type": "nominal",
                      "scale": {
                        "domain": ["0650CZE060","0650CZE070","0650CZE080","0650CZE090","0650CZE100","0650CZE110","0650CZE120","0650CZE130","0650CZE140","0650CZE150","0650CZS060","0650CZS070","0650CZS080","0650CZS090","0650CZS100","0650CZS110","0650CZS120","0650CZS130","0650CZS140","0650CZS150","Speed 20 km/h","Speed 40 km/h","Hourly Snowfall","Cumulative Snowfall"],
                        "range": ["#1f77b4","#ff7f0e","#2ca02c","#d62728","#9467bd","#8c564b","#e377c2","#7f7f7f","#bcbd22","#17becf","#1f77b4","#ff7f0e","#2ca02c","#d62728","#9467bd","#8c564b","#e377c2","#7f7f7f","#bcbd22","#17becf","#ff0000","#ff0000","#0000ff","#b5cde1"]
                      }
                    }
                  }
                },
                {
                  "data": {"values": [{"series": "Speed 40 km/h", "speed": 40}]},
                  "mark": {"type": "rule", "strokeWidth": 2, "strokeDash": [6, 4]},
                  "encoding": {
                    "y": {"field": "speed", "type": "quantitative", "scale": {"domain": [0, 140], "nice": false}, "axis": {"orient": "left", "title": "Traffic Speed (km/h)", "titleFontSize": 32, "labelFontSize": 25, "values": [0,20,40,60,80,100,120,140], "grid": false, "titlePadding": 14}},
                    "color": {"field": "series", "type": "nominal",
                      "scale": {
                        "domain": ["0650CZE060","0650CZE070","0650CZE080","0650CZE090","0650CZE100","0650CZE110","0650CZE120","0650CZE130","0650CZE140","0650CZE150","0650CZS060","0650CZS070","0650CZS080","0650CZS090","0650CZS100","0650CZS110","0650CZS120","0650CZS130","0650CZS140","0650CZS150","Speed 20 km/h","Speed 40 km/h","Hourly Snowfall","Cumulative Snowfall"],
                        "range": ["#1f77b4","#ff7f0e","#2ca02c","#d62728","#9467bd","#8c564b","#e377c2","#7f7f7f","#bcbd22","#17becf","#1f77b4","#ff7f0e","#2ca02c","#d62728","#9467bd","#8c564b","#e377c2","#7f7f7f","#bcbd22","#17becf","#ff0000","#ff0000","#0000ff","#b5cde1"]
                      }
                    }
                  }
                }
              ]
            }
          ],
          "resolve": {"scale": {"y": "independent"}}
        }
      ]
    }
  ],
  "resolve": {"scale": {"color": "independent"}, "legend": {"color": "independent"}}
}
